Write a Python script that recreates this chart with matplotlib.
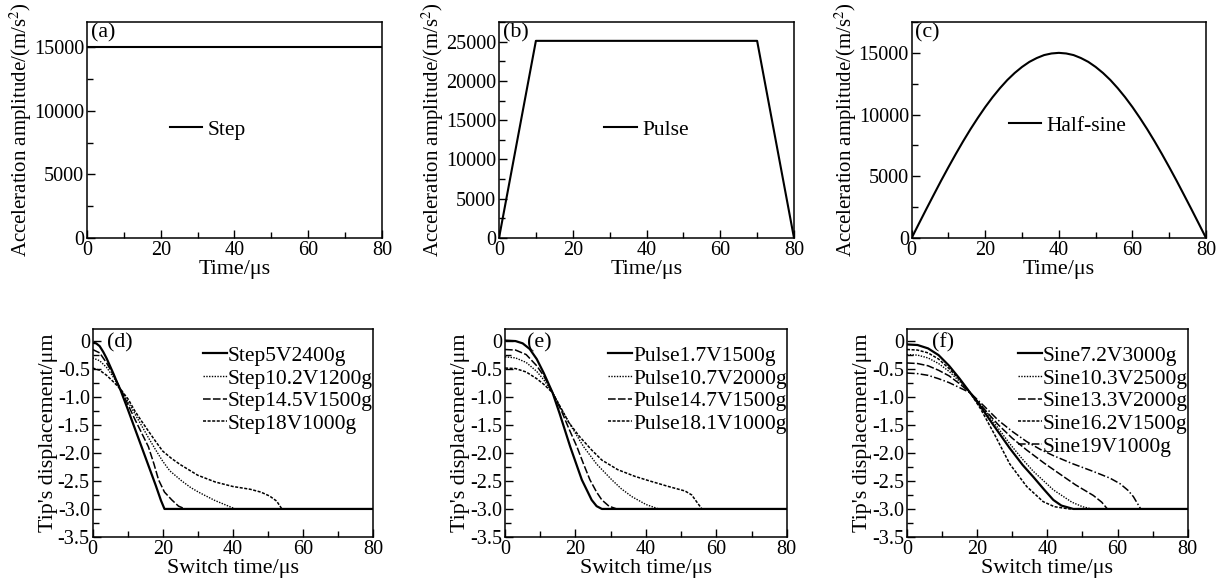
import matplotlib
matplotlib.use("Agg")
import matplotlib.pyplot as plt
from matplotlib.ticker import MultipleLocator

plt.rcParams["font.family"] = ["Liberation Serif", "DejaVu Serif"]
plt.rcParams["font.size"] = 15.8
plt.rcParams["xtick.labelsize"] = 14.6
plt.rcParams["ytick.labelsize"] = 14.6
plt.rcParams["legend.fontsize"] = 15.5
plt.rcParams["mathtext.fontset"] = "stix"

# ---- (a)-(c): input acceleration waveforms ----
step_t = [0, 80]
step_a = [15000, 15000]

pulse_t = [0, 10, 70, 80]
pulse_a = [0, 25100, 25100, 0]

sine_t = [0, 2, 4, 6, 8, 10, 12, 14, 16, 18, 20, 22, 24, 26, 28, 30, 32, 34, 36, 38, 40,
          42, 44, 46, 48, 50, 52, 54, 56, 58, 60, 62, 64, 66, 68, 70, 72, 74, 76, 78, 80]
sine_a = [0, 1180, 2350, 3500, 4640, 5740, 6810, 7840, 8820, 9740, 10610, 11410, 12140,
          12800, 13370, 13860, 14270, 14580, 14820, 14950, 15000,
          14950, 14820, 14580, 14270, 13860, 13370, 12800, 12140, 11410, 10610,
          9740, 8820, 7840, 6810, 5740, 4640, 3500, 2350, 1180, 0]

# ---- (d): step response ----
d_labels = ["Step5V2400g", "Step10.2V1200g", "Step14.5V1500g", "Step18V1000g"]
d_t = [
    [0, 1, 2, 3, 4, 5, 6, 7, 8, 10, 12, 14, 16, 18, 19.5, 20.5, 80],
    [0, 2, 4, 6, 8, 10, 12, 14, 16, 18, 20, 22, 25.4, 28, 30.2, 33, 34.9, 38, 40.7, 80],
    [0, 2, 4, 6, 8, 10, 12.1, 14, 15.9, 17.5, 18.8, 20.5, 22.6, 24.5, 26.4, 80],
    [0, 2, 4, 6, 8, 10.2, 12, 14, 16, 18, 20, 22.5, 25, 30, 35, 40, 45, 48, 50.5, 52.5, 54, 80],
]
d_y = [
    [-0.04, -0.05, -0.1, -0.2, -0.32, -0.46, -0.6, -0.75, -0.89, -1.22, -1.56, -1.9, -2.24, -2.58, -2.85, -3.0, -3.0],
    [-0.31, -0.36, -0.48, -0.66, -0.87, -1.08, -1.3, -1.52, -1.74, -1.95, -2.15, -2.32, -2.5, -2.62, -2.7, -2.79, -2.85, -2.93, -3.0, -3.0],
    [-0.16, -0.22, -0.4, -0.62, -0.87, -1.13, -1.41, -1.65, -1.89, -2.2, -2.48, -2.7, -2.84, -2.95, -3.0, -3.0],
    [-0.49, -0.53, -0.62, -0.74, -0.87, -1.05, -1.25, -1.44, -1.62, -1.8, -1.97, -2.1, -2.21, -2.4, -2.52, -2.6, -2.65, -2.7, -2.77, -2.86, -3.0, -3.0],
]

# ---- (e): pulse response ----
e_labels = ["Pulse1.7V1500g", "Pulse10.7V2000g", "Pulse14.7V1500g", "Pulse18.1V1000g"]
e_t = [
    [0, 3, 5, 7, 9, 11, 13.5, 15.5, 18.5, 21.8, 24.6, 26, 27.5, 80],
    [0, 3, 6, 9, 11, 13.5, 16, 19, 22.3, 26, 30.3, 33, 36, 40, 43.6, 80],
    [0, 3, 6, 9, 11, 13.5, 16, 18, 20.4, 22.3, 24.1, 26, 27.5, 29.5, 31.7, 80],
    [0, 3, 6, 9, 11, 13.5, 15.6, 18, 21, 24.6, 27.5, 32, 36.9, 41, 46.4, 51.1, 53, 54.5, 55.9, 80],
]
e_y = [
    [0.0, -0.01, -0.05, -0.15, -0.33, -0.58, -0.93, -1.3, -1.89, -2.48, -2.84, -2.95, -3.0, -3.0],
    [-0.29, -0.31, -0.39, -0.55, -0.7, -0.93, -1.22, -1.55, -1.89, -2.2, -2.48, -2.64, -2.78, -2.92, -3.0, -3.0],
    [-0.16, -0.17, -0.25, -0.45, -0.63, -0.93, -1.25, -1.55, -1.89, -2.2, -2.48, -2.7, -2.84, -2.95, -3.0, -3.0],
    [-0.49, -0.5, -0.56, -0.68, -0.78, -0.93, -1.17, -1.45, -1.7, -1.95, -2.13, -2.3, -2.42, -2.5, -2.6, -2.68, -2.75, -2.88, -3.0, -3.0],
]

# ---- (f): half-sine response ----
f_labels = ["Sine7.2V3000g", "Sine10.3V2500g", "Sine13.3V2000g", "Sine16.2V1500g", "Sine19V1000g"]
f_t = [
    [0, 3, 6, 9, 12, 15, 18, 20.8, 24, 29.3, 33, 36, 39, 41.7, 44, 47.4, 80],
    [0, 3, 6, 9, 12, 15, 18, 20.8, 25, 29.3, 33, 36, 41.7, 47, 50, 52.6, 80],
    [0, 3, 6, 9, 12, 15, 18, 22, 26, 30, 34.1, 39, 43.6, 48, 53.1, 55.5, 57.1, 80],
    [0, 3, 6, 9, 12, 15, 18, 21, 25, 29.3, 34.1, 38.8, 42, 46.2, 80],
    [0, 3, 6, 9, 12, 15, 18, 22, 26, 30, 34.1, 38, 41.7, 47, 53, 57.8, 60.7, 63, 64.5, 66.6, 80],
]
f_y = [
    [-0.07, -0.08, -0.14, -0.26, -0.45, -0.68, -0.93, -1.16, -1.45, -1.92, -2.22, -2.43, -2.65, -2.84, -2.94, -3.0, -3.0],
    [-0.25, -0.26, -0.31, -0.41, -0.55, -0.73, -0.93, -1.13, -1.48, -1.84, -2.12, -2.33, -2.66, -2.88, -2.96, -3.0, -3.0],
    [-0.4, -0.41, -0.45, -0.53, -0.63, -0.77, -0.93, -1.22, -1.5, -1.74, -1.95, -2.18, -2.38, -2.57, -2.76, -2.88, -3.0, -3.0],
    [-0.16, -0.17, -0.22, -0.33, -0.5, -0.7, -0.93, -1.22, -1.68, -2.2, -2.6, -2.87, -2.96, -3.0, -3.0],
    [-0.58, -0.59, -0.62, -0.68, -0.75, -0.84, -0.93, -1.17, -1.42, -1.62, -1.8, -1.94, -2.05, -2.19, -2.33, -2.45, -2.55, -2.67, -2.78, -3.0, -3.0],
]

styles4 = [
    dict(ls="-", lw=1.6),
    dict(ls=(0, (1, 1)), lw=1.0),
    dict(ls=(0, (5, 1.5)), lw=1.1),
    dict(ls=(0, (2, 1)), lw=1.1),
]
styles5 = [
    dict(ls="-", lw=1.6),
    dict(ls=(0, (1, 1)), lw=1.0),
    dict(ls=(0, (5, 1.5)), lw=1.1),
    dict(ls=(0, (2, 1)), lw=1.1),
    dict(ls=(0, (5, 1.5, 1, 1.5)), lw=1.1),
]


def style_axes(ax, ymax, ymaj, ymin_step, ymin_val=0):
    ax.set_xlim(0, 80)
    ax.set_ylim(ymin_val, ymax)
    ax.xaxis.set_major_locator(MultipleLocator(20))
    ax.xaxis.set_minor_locator(MultipleLocator(10))
    ax.yaxis.set_major_locator(MultipleLocator(ymaj))
    ax.yaxis.set_minor_locator(MultipleLocator(ymin_step))
    ax.tick_params(which="both", direction="in", top=False, right=False, width=1.0)
    ax.tick_params(which="major", length=6, pad=2)
    ax.tick_params(which="minor", length=4)
    for sp in ax.spines.values():
        sp.set_linewidth(1.1)


fig = plt.figure(figsize=(12.27, 5.82), dpi=100)

top_axes = [
    fig.add_axes([0.0709, 0.5911, 0.2404, 0.3711]),
    fig.add_axes([0.4067, 0.5911, 0.2404, 0.3711]),
    fig.add_axes([0.7430, 0.5911, 0.2399, 0.3711]),
]
top_data = [(step_t, step_a, "Step", 17000, "(a)", (0.41, 0.50)),
            (pulse_t, pulse_a, "Pulse", 27500, "(b)", (0.50, 0.50)),
            (sine_t, sine_a, "Half-sine", 17500, "(c)", (0.53, 0.52))]
for ax, (t, a, lab, ymax, tag, lpos) in zip(top_axes, top_data):
    ax.plot(t, a, color="black", lw=1.5, label=lab)
    style_axes(ax, ymax, 5000, 2500)
    ax.set_xlabel("Time/μs", labelpad=0)
    ax.set_ylabel("Acceleration amplitude/(m/s$^2$)", labelpad=0, fontsize=15.0)
    ax.text(0.012, 0.95, tag, transform=ax.transAxes, ha="left", va="center")
    ax.legend(loc="center", bbox_to_anchor=lpos, frameon=False, handlelength=1.5,
              handletextpad=0.25, borderpad=0)

bot_axes = [
    fig.add_axes([0.0755, 0.0773, 0.2285, 0.3569]),
    fig.add_axes([0.4116, 0.0773, 0.2296, 0.3569]),
    fig.add_axes([0.7392, 0.0773, 0.2288, 0.3569]),
]
bot_data = [(d_t, d_y, d_labels, styles4, "(d)", 0.05),
            (e_t, e_y, e_labels, styles4, "(e)", 0.077),
            (f_t, f_y, f_labels, styles5, "(f)", 0.088)]
for ax, (ts, ys, labs, sts, tag, tx) in zip(bot_axes, bot_data):
    for t, y, lab, st in zip(ts, ys, labs, sts):
        ax.plot(t, y, color="black", label=lab, **st)
    style_axes(ax, 0.2, 0.5, 0.25, ymin_val=-3.5)
    ax.set_yticks([0, -0.5, -1.0, -1.5, -2.0, -2.5, -3.0, -3.5])
    ax.set_yticklabels(["0", "-0.5", "-1.0", "-1.5", "-2.0", "-2.5", "-3.0", "-3.5"])
    ax.set_xlabel("Switch time/μs", labelpad=0)
    ax.set_ylabel("Tip's displacement/μm", labelpad=0)
    ax.text(tx, 0.935, tag, transform=ax.transAxes, ha="left", va="center")
    ax.legend(loc="upper right", bbox_to_anchor=(1.0, 0.92), frameon=False,
              handlelength=1.1, handletextpad=0.05, labelspacing=0.12, borderpad=0,
              borderaxespad=0)

fig.savefig("out.png", dpi=100)
